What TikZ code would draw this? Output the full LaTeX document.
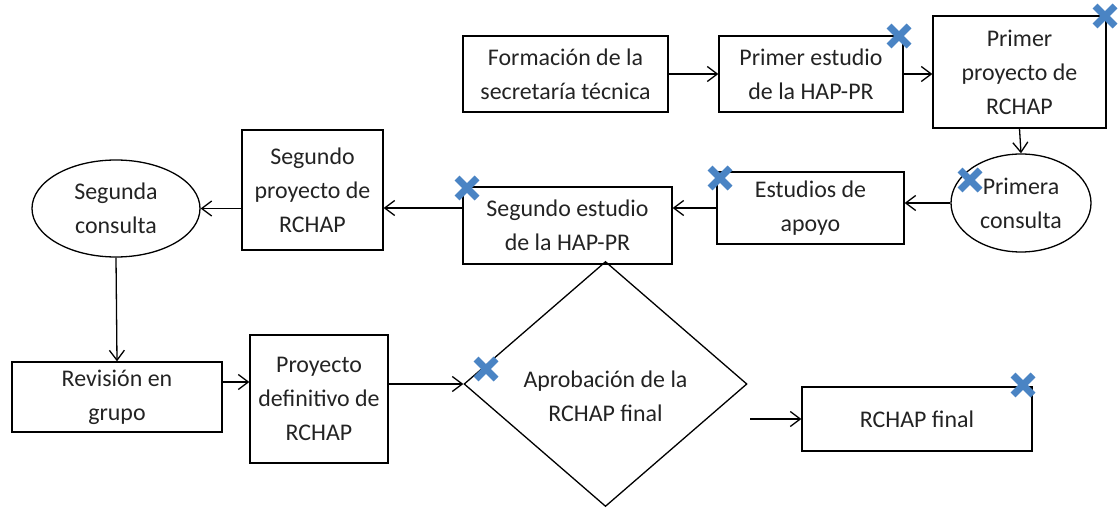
\documentclass[tikz,border=0pt]{standalone}
\usepackage{fontspec}
\setmainfont{Carlito}
\usetikzlibrary{arrows.meta,shapes.geometric,shapes.misc}
\definecolor{xblue}{RGB}{74,132,196}
\definecolor{txtgray}{RGB}{35,35,35}
\begin{document}
\begin{tikzpicture}[x=1bp,y=-1bp,>={Straight Barb[length=10bp,width=15bp]},line width=1.3bp,
  every node/.style={text=txtgray,font=\fontsize{24}{34}\selectfont,align=center,inner sep=0pt},
  stepbox/.style={draw,rectangle},
  talk/.style={draw,ellipse},
  decide/.style={draw,diamond},
  xmark/.style={cross out,draw=xblue,line width=7bp,minimum size=13bp},]
\useasboundingbox (0,0) rectangle (1119,510);
%%
\node (form) at (565.5,74) [stepbox,minimum width=205bp,minimum height=76bp] {Formación de la\\secretaría técnica};
  \node (est1) at (811,74) [stepbox,minimum width=184bp,minimum height=76bp] {Primer estudio\\de la HAP-PR};
  \node (proy1) at (1019.5,72) [stepbox,minimum width=173bp,minimum height=112bp] {Primer\\proyecto de\\RCHAP};
  \node (cons1) at (1021,203) [talk,minimum width=140bp,minimum height=98bp] {Primera\\consulta};
  \node (apoyo) at (810.5,208) [stepbox,minimum width=187bp,minimum height=72bp] {Estudios de\\apoyo};
  \node (est2) at (567.5,225.5) [stepbox,minimum width=209bp,minimum height=77bp] {Segundo estudio\\de la HAP-PR};
  \node (proy2) at (312.5,190) [stepbox,minimum width=141bp,minimum height=120bp] {Segundo\\proyecto de\\RCHAP};
  \node (cons2) at (116,208.5) [talk,minimum width=168bp,minimum height=97bp] {Segunda\\consulta};
  \node (rev) at (117,397) [stepbox,minimum width=210bp,minimum height=70bp] {Revisión en\\grupo};
  \node (proyd) at (319,399) [stepbox,minimum width=138bp,minimum height=128bp] {Proyecto\\definitivo de\\RCHAP};
  \node (aprob) at (605.5,384) [decide,minimum width=283bp,minimum height=245bp,aspect=1.155] {};
  \node (aprobtxt) at (605.5,396) {Aprobación de la\\RCHAP final};
  \node (final) at (917,419) [stepbox,minimum width=230bp,minimum height=64bp] {RCHAP final};
  \coordinate (out) at (750,419);
%
\draw [->] (form.east) -- (est1.west);
  \draw [->] (est1.east) -- (proy1.west |- est1.east);
  \draw [->] (proy1.south) -- (cons1.north);
  \draw [->] (cons1.west) -- (apoyo.east |- cons1.west);
  \draw [->] (apoyo.west) -- (est2.east |- apoyo.west);
  \draw [->] (est2.west |- apoyo.west) -- (proy2.east |- apoyo.west);
  \draw [->] (proy2.west |- cons2.east) -- (cons2.east);
  \draw [->] (cons2.south) -- (rev.north);
  \draw [->] ([yshift=15bp]rev.east) -- ([yshift=15bp]rev.east -| proyd.west);
  \draw [->] (proyd.east |- aprob.west) -- (aprob.west);
  \draw [->] (out) -- (final.west);
%
\node (x1) at (899,36) [xmark] {};
  \node (x2) at (1105,16) [xmark] {};
  \node (x3) at (970,180) [xmark] {};
  \node (x4) at (720,178) [xmark] {};
  \node (x5) at (467,188) [xmark] {};
  \node (x6) at (486,369) [xmark] {};
  \node (x7) at (1023,385) [xmark] {};
%
\end{tikzpicture}
\end{document}
